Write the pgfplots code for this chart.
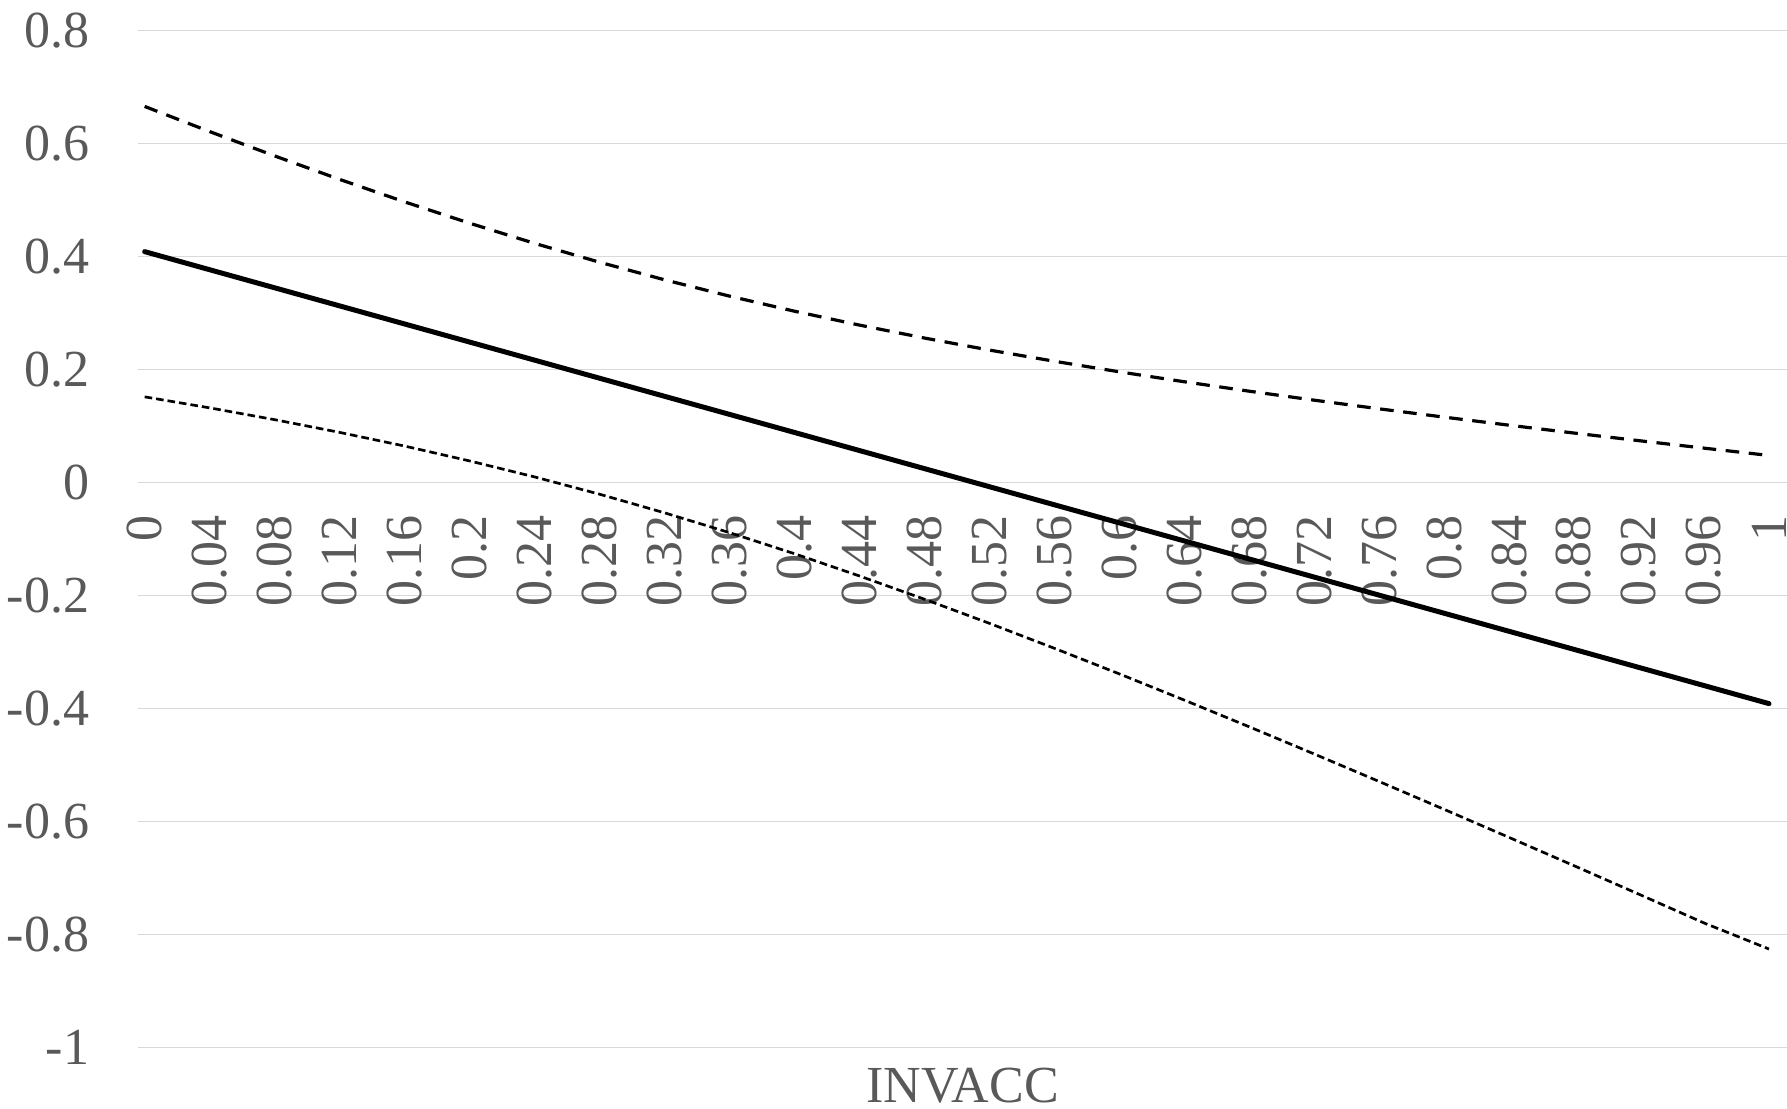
\documentclass[border=0pt]{standalone}
\usepackage{fontspec}
\setmainfont{Liberation Serif}
\usepackage{pgfplots}
\pgfplotsset{compat=1.18}
\definecolor{txtgray}{HTML}{595959}
\definecolor{gridgray}{HTML}{D9D9D9}

\begin{document}
\begin{tikzpicture}
\useasboundingbox (-34.5pt,-15.075pt) rectangle (412.25pt,261.925pt);
\begin{axis}[
  at={(0,0)}, anchor=south west,
  scale only axis, width=412.25pt, height=254.25pt,
  xmin=-0.0041, xmax=1.0111, ymin=-1, ymax=0.8,
  axis line style={draw=none},
  major tick length=0pt, tick style={draw=none},
  ytick={-1,-0.8,-0.6,-0.4,-0.2,0,0.2,0.4,0.6,0.8},
  yticklabels={-1,-0.8,-0.6,-0.4,-0.2,0,0.2,0.4,0.6,0.8},
  ymajorgrids, grid style={gridgray, line width=0.35pt},
  xtick=data,
  xticklabels={0,0.04,0.08,0.12,0.16,0.2,0.24,0.28,0.32,0.36,0.4,0.44,0.48,0.52,0.56,0.6,0.64,0.68,0.72,0.76,0.8,0.84,0.88,0.92,0.96,1},
  tick label style={text=txtgray, inner sep=0pt, font=\fontsize{13}{15.6}\selectfont},
  yticklabel style={xshift=-12pt, anchor=east},
  xticklabel style={yshift=133.25pt, rotate=90, anchor=east},
  xlabel={INVACC},
  xlabel style={at={(axis description cs:0.5,0)}, anchor=north, inner sep=0pt, yshift=-4.8pt, text=txtgray, font=\fontsize{13}{15.6}\selectfont},
  clip=false,
]
\addplot[black, line width=1.25pt, line cap=round, mark=none] table {
x y
0 0.409
0.04 0.377
0.08 0.345
0.12 0.313
0.16 0.281
0.2 0.249
0.24 0.217
0.28 0.185
0.32 0.153
0.36 0.121
0.4 0.089
0.44 0.057
0.48 0.025
0.52 -0.007
0.56 -0.039
0.6 -0.071
0.64 -0.103
0.68 -0.135
0.72 -0.167
0.76 -0.199
0.8 -0.231
0.84 -0.263
0.88 -0.295
0.92 -0.327
0.96 -0.359
1 -0.391
};
\addplot[black, line width=0.8pt, dash pattern=on 3.4pt off 2.4pt, mark=none] table {
x y
0 0.666
0.04 0.6215
0.08 0.5784
0.12 0.5369
0.16 0.4971
0.2 0.4594
0.24 0.4237
0.28 0.3903
0.32 0.3592
0.36 0.3303
0.4 0.3036
0.44 0.2790
0.48 0.2561
0.52 0.2348
0.56 0.2150
0.6 0.1963
0.64 0.1787
0.68 0.1620
0.72 0.1461
0.76 0.1308
0.8 0.1161
0.84 0.1018
0.88 0.0879
0.92 0.0744
0.96 0.0612
1 0.0483
};
\addplot[black, line width=0.67pt, dash pattern=on 1.9pt off 1pt, mark=none] table {
x y
0 0.152
0.04 0.1325
0.08 0.1116
0.12 0.0891
0.16 0.0649
0.2 0.0386
0.24 0.0103
0.28 -0.0203
0.32 -0.0532
0.36 -0.0883
0.4 -0.1256
0.44 -0.1650
0.48 -0.2061
0.52 -0.2488
0.56 -0.2930
0.6 -0.3383
0.64 -0.3847
0.68 -0.4320
0.72 -0.4801
0.76 -0.5288
0.8 -0.5781
0.84 -0.6278
0.88 -0.6779
0.92 -0.7284
0.96 -0.7792
1 -0.8253
};
\end{axis}
\end{tikzpicture}
\end{document}
